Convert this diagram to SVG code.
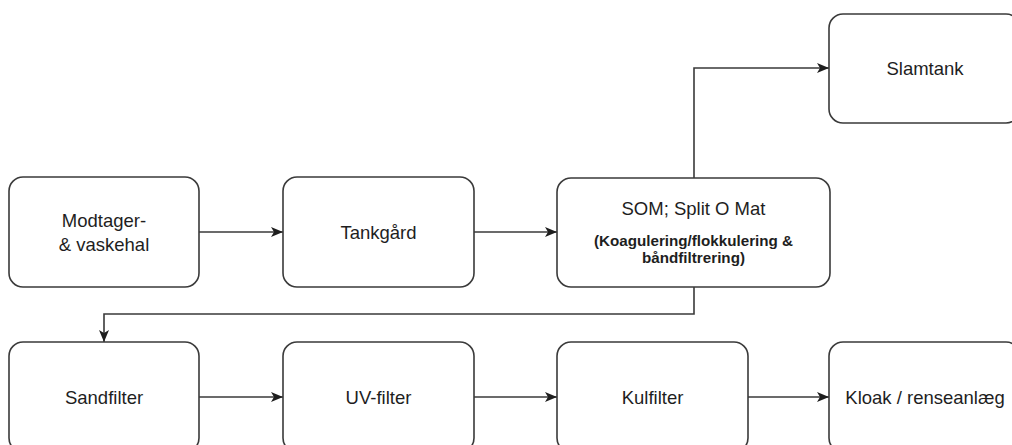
<svg xmlns="http://www.w3.org/2000/svg" width="1012" height="445" viewBox="0 0 1012 445">
<defs>
<style>
.box{fill:#ffffff;stroke:#3a3a3a;stroke-width:1.6}
.lbl{font-family:"Liberation Sans",Arial,sans-serif;font-size:18.5px;fill:#1e1e1e;text-anchor:middle}
.sub{font-family:"Liberation Sans",Arial,sans-serif;font-size:15.2px;font-weight:bold;fill:#1e1e1e;text-anchor:middle}
.edge{fill:none;stroke:#3a3a3a;stroke-width:1.6}
</style>
<marker id="arr" markerUnits="userSpaceOnUse" markerWidth="13" markerHeight="11" refX="12" refY="5.5" orient="auto">
<path d="M0,0.5 L12,5.5 L0,10.5 L3,5.5 Z" fill="#1e1e1e"/>
</marker>
</defs>
<rect width="1012" height="445" fill="#ffffff"/>
<g id="connectors">
<path class="edge" d="M199,232 H283" marker-end="url(#arr)"/>
<path class="edge" d="M474,232 H557" marker-end="url(#arr)"/>
<path class="edge" d="M694,178 V68 H829" marker-end="url(#arr)"/>
<path class="edge" d="M694,287 V314 H104 V342" marker-end="url(#arr)"/>
<path class="edge" d="M199,397 H283" marker-end="url(#arr)"/>
<path class="edge" d="M474,397 H557" marker-end="url(#arr)"/>
<path class="edge" d="M748,397 H829" marker-end="url(#arr)"/>
</g>
<g id="modtager">
<rect class="box" x="9" y="177" width="190" height="110" rx="14"/>
<text class="lbl" x="104" y="227">Modtager-</text>
<text class="lbl" x="104" y="251">&amp; vaskehal</text>
</g>
<g id="tankgaard">
<rect class="box" x="283" y="177" width="191" height="110" rx="14"/>
<text class="lbl" x="378.5" y="239">Tankgård</text>
</g>
<g id="som">
<rect class="box" x="557" y="178" width="273" height="109" rx="14"/>
<text class="lbl" x="693.5" y="215">SOM; Split O Mat</text>
<text class="sub" x="693.5" y="246">(Koagulering/flokkulering &amp;</text>
<text class="sub" x="693.5" y="263">båndfiltrering)</text>
</g>
<g id="slamtank">
<rect class="box" x="829" y="14" width="191" height="109" rx="14"/>
<text class="lbl" x="925" y="75">Slamtank</text>
</g>
<g id="sandfilter">
<rect class="box" x="9" y="342" width="190" height="110" rx="14"/>
<text class="lbl" x="104" y="404">Sandfilter</text>
</g>
<g id="uvfilter">
<rect class="box" x="283" y="342" width="191" height="110" rx="14"/>
<text class="lbl" x="378.5" y="404">UV-filter</text>
</g>
<g id="kulfilter">
<rect class="box" x="557" y="342" width="191" height="110" rx="14"/>
<text class="lbl" x="652.5" y="404">Kulfilter</text>
</g>
<g id="kloak">
<rect class="box" x="829" y="342" width="191" height="110" rx="14"/>
<text class="lbl" x="925" y="404">Kloak / renseanlæg</text>
</g>
</svg>
